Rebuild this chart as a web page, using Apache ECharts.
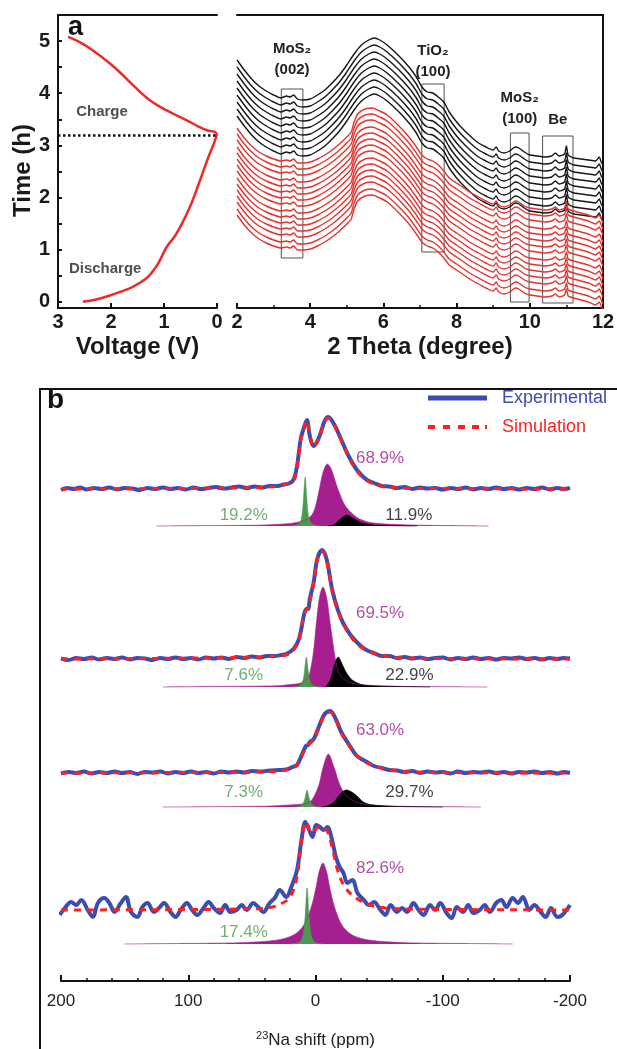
<!DOCTYPE html>
<html lang="en">
<head>
<meta charset="utf-8" />
<style>
    html, body { margin: 0; padding: 0; background: #fff; overflow: hidden; }
    .box { width: 617px; height: 1049px; }
</style>
</head>
<body>
<div class="box"></div>
<script src="https://cdn.jsdelivr.net/npm/echarts@6/dist/echarts.min.js"></script>
<script>
(function () {
var myChart = echarts.init(document.querySelector('.box'));
var FONT = '"Liberation Sans", Arial, Helvetica, sans-serif';

// ---------- panel a, left: voltage profile [V, h]
var dischargeCurve = [[2.53,0],[2.3,0.04],[2.08,0.1],[1.8,0.2],[1.58,0.29],[1.33,0.45],[1.2,0.6],[1.1,0.75],[0.95,1.05],[0.8,1.25],[0.69,1.44],[0.51,1.82],[0.32,2.33],[0.16,2.78],[0.06,3.03],[0.02,3.15],[0,3.22]];
var chargeCurve = [[0,3.22],[0.05,3.26],[0.19,3.29],[0.35,3.36],[0.57,3.48],[0.95,3.67],[1.26,3.86],[1.58,4.15],[1.77,4.34],[2.02,4.57],[2.34,4.82],[2.59,4.98],[2.81,5.08]];
var switchTime = 3.19;
var timeLabels = [0,1,2,3,4,5];
var timeTicks = [0,0.5,1,1.5,2,2.5,3,3.5,4,4.5,5];

// ---------- panel a, right: in-situ XRD [2theta, intensity a.u.]
var blackProfile = [[2.0,248],[2.2,238],[2.4,229],[2.6,222],[2.8,217],[3.0,213],[3.2,210],[3.35,212],[3.45,211],[3.55,213],[3.65,209],[3.8,208],[4.0,209],[4.2,213],[4.4,218],[4.6,225],[4.8,233],[5.0,243],[5.2,254],[5.4,263],[5.6,268],[5.75,270],[5.9,268],[6.1,263],[6.4,253],[6.7,241],[6.9,231],[7.05,221],[7.2,216],[7.35,215],[7.5,211],[7.65,206],[7.8,196],[8.0,186],[8.2,178],[8.4,171],[8.6,165],[8.8,161],[9.0,158],[9.08,161],[9.15,157],[9.3,155],[9.45,157],[9.6,161],[9.7,160],[9.85,156],[10.0,153],[10.2,152],[10.4,151],[10.6,152],[10.7,155],[10.8,152],[10.95,154],[11.0,162],[11.05,153],[11.2,150],[11.4,149],[11.6,148],[11.8,147],[11.9,151],[11.95,146],[12.0,143]];
var redProfile = [[2.0,180],[2.2,170],[2.4,162],[2.6,156],[2.8,152],[3.0,149],[3.2,147],[3.35,148],[3.45,147],[3.55,149],[3.65,145],[3.8,145],[4.0,146],[4.2,149],[4.4,153],[4.6,158],[4.8,164],[5.0,171],[5.12,176],[5.2,186],[5.3,194],[5.5,199],[5.7,200],[5.9,197],[6.1,193],[6.4,183],[6.7,171],[6.9,161],[7.05,153],[7.2,149],[7.35,147],[7.5,143],[7.65,137],[7.8,130],[8.0,125],[8.2,120],[8.4,115],[8.6,111],[8.8,107],[9.0,104],[9.08,107],[9.15,103],[9.3,101],[9.45,103],[9.6,107],[9.7,106],[9.85,102],[10.0,100],[10.2,99],[10.4,98],[10.6,99],[10.7,101],[10.8,98],[10.95,100],[11.0,106],[11.05,99],[11.2,97],[11.4,95],[11.6,93],[11.8,90],[11.9,93],[11.95,89],[12.0,85]];
var blackOffsets = [0,7,14,21,28,35,42,49,56];
var redOffsets = [0,6,12,19,25,31,37,43,50,56,62,68,74,81,87];
// peak windows: label, 2theta from/to, intensity from/to
var xrdPeaks = [
    ['MoS\u2082\n(002)', 3.21, 3.8, 50, 219],
    ['TiO\u2082\n(100)', 7.05, 7.66, 56, 224],
    ['MoS\u2082\n(100)', 9.47, 9.98, 6, 175],
    ['Be', 10.35, 11.18, 5, 172]
];

// ---------- panel b: 23Na NMR [ppm, intensity]
var sampleNames = ['MoS\u2082-TiO\u2082 charge 3V', 'MoS\u2082-TiO\u2082 discharge 0.01V', 'MoS\u2082-TiO\u2082 discharge 1V', 'MoS\u2082 discharge 0.01V'];
var expBase = [492, 322, 208, 71];
var compBase = [455, 294, 174, 37];

var exp1 = [[200,-1],[195,1],[190,0],[185,1.5],[180,-0.5],[174,1],[168,0],[162,1.5],[156,-0.5],[150,1],[144,0.5],[138,-1],[132,1],[126,0],[120,1.5],[114,0],[108,1],[102,-0.5],[96,1.5],[90,0],[84,1],[78,2],[72,0.5],[66,1.5],[60,2.5],[54,1],[48,2.5],[42,1.5],[36,3],[30,3],[25,4.5],[20,6],[17,10],[14.5,23],[11.6,50],[8.7,63],[6.8,69],[4.3,52],[1.5,43],[-2.9,52],[-7.2,68],[-10,72],[-14.5,65],[-20,50],[-26,33],[-32,20],[-37.6,12],[-42,8],[-46,6],[-52,3],[-58,2.5],[-64,1],[-70,2],[-76,0],[-82,1.5],[-88,0.5],[-94,1],[-100,-0.5],[-106,1],[-112,0],[-118,1.5],[-124,-0.5],[-130,1],[-136,0],[-142,1.5],[-148,0],[-154,1],[-160,-0.5],[-166,1],[-172,0],[-178,1.5],[-184,-0.5],[-190,1],[-195,0],[-200,1]];
var exp2 = [[200,0.5],[194,-1],[188,1],[182,0],[176,1.5],[170,-0.5],[164,1],[158,0],[152,1.5],[146,-0.5],[140,1],[134,0.5],[128,-1],[122,1],[116,0],[110,1.5],[104,0],[98,1],[92,-0.5],[86,1.5],[80,0.5],[74,1.5],[68,0],[62,2],[56,1],[50,2.5],[44,1.5],[38,3],[32,3],[27,4],[23,5],[17.3,10],[13,20],[8.7,46],[7,50],[5.8,50],[4.5,60],[1.4,77],[-1.4,100],[-5.2,109],[-8.7,100],[-13,70],[-17.3,50],[-21.7,36],[-27.5,24],[-34.7,14],[-40,9],[-46,6],[-52,3],[-58,3],[-64,1],[-70,2],[-76,0.5],[-82,1.5],[-88,0],[-94,1],[-100,1.5],[-106,-0.5],[-112,1],[-118,0],[-124,1.5],[-130,0],[-136,1],[-142,-0.5],[-148,1],[-154,0.5],[-160,1.5],[-166,0],[-172,1],[-178,-0.5],[-184,1],[-190,0],[-195,1],[-200,0.5]];
var exp3 = [[200,-0.5],[194,1],[188,0],[182,1.5],[176,-0.5],[170,1],[164,0],[158,1.5],[152,0],[146,1],[140,-1],[134,1],[128,0.5],[122,1.5],[116,-0.5],[110,1],[104,0],[98,1.5],[92,0],[86,1],[80,-0.5],[74,1.5],[68,0.5],[62,1.5],[56,0.5],[50,2],[43,1.5],[36,2.5],[29,3],[23,3.5],[18,6],[14.5,8],[10.1,20],[7.5,27],[5.8,28],[4.5,31],[1.4,34],[-2.9,47],[-7.2,59],[-11.6,62],[-15.9,54],[-20.2,41],[-26,29],[-31.8,18],[-36,14],[-40.5,11],[-46,7],[-52,5],[-58,3],[-64,2.5],[-70,1],[-76,2],[-82,0],[-88,1.5],[-94,0.5],[-100,1],[-106,-0.5],[-112,1.5],[-118,0],[-124,1],[-130,0.5],[-136,1.5],[-142,0],[-148,1],[-154,-0.5],[-160,1],[-166,0.5],[-172,1.5],[-178,0],[-184,1],[-190,-0.5],[-195,1],[-200,0]];
var exp4 = [[201,-5],[197,2],[192,8],[188,5],[184,10],[179,0],[175,-7],[171,7],[166,12],[162,7],[158,-2],[153,7],[149,13],[145,-2],[140,-7],[136,3],[132,7],[127,-2],[123,2],[119,7],[114,-2],[110,-7],[106,0],[101,7],[97,0],[93,-5],[88,2],[84,8],[80,2],[75,-3],[71,5],[67,-2],[62,0],[58,5],[54,0],[49,7],[45,3],[41,-2],[36,7],[32,12],[28,20],[23,13],[19,23],[14.5,40],[11,70],[8,88],[5,80],[2.3,73],[-0.6,85],[-3.5,83],[-6.4,80],[-9.3,83],[-13,70],[-16,53],[-19,43],[-22,37],[-25,27],[-29,30],[-33,17],[-38,10],[-42,5],[-46,8],[-51,0],[-55,-5],[-59,5],[-64,-2],[-68,2],[-72,-2],[-77,7],[-81,0],[-85,-5],[-90,5],[-94,0],[-98,7],[-103,-3],[-107,-8],[-111,3],[-116,-2],[-120,5],[-124,-3],[-129,0],[-133,5],[-137,-2],[-142,7],[-146,10],[-150,3],[-155,12],[-159,7],[-163,13],[-168,0],[-172,5],[-177,-2],[-181,-7],[-185,2],[-190,-7],[-194,-5],[-200,5]];

var sim1 = [[200,0],[120,0.5],[60,1],[43,1.5],[32,2.5],[23,5],[17,9],[14.5,22],[11.6,49],[8.7,62],[6.8,68],[4.3,52],[1.5,42],[-2.9,51],[-7.2,67],[-10,71],[-14.5,64],[-20,49],[-26,32],[-32,19],[-37.6,11],[-46,5],[-58,2],[-70,0.8],[-120,0.3],[-200,0]];
var sim2 = [[200,0],[100,0.8],[60,1.5],[43,2],[32,3],[23,4],[17.3,9],[13,19],[8.7,46],[5.8,51],[1.4,76],[-1.4,99],[-5.2,108],[-8.7,99],[-13,69],[-17.3,49],[-21.7,36],[-27.5,23],[-34.7,13],[-43,7],[-55,3],[-70,1],[-120,0.3],[-200,0]];
var sim3 = [[200,0],[100,0.5],[43,1],[23,3],[14.5,8],[10.1,19],[5.8,28],[1.4,33],[-2.9,46],[-7.2,58],[-11.6,61],[-15.9,53],[-20.2,40],[-26,28],[-31.8,18],[-40.5,10],[-52,5],[-69,1.5],[-120,0.3],[-200,0]];
var sim4 = [[200,0],[100,0.5],[50,1.2],[37.6,2],[29,5],[20,13],[14.5,33],[11,70],[7.2,88],[2.9,77],[-2.9,83],[-8.7,80],[-13,63],[-17.3,40],[-23.1,23],[-31.8,12],[-43,5],[-55,2],[-80,0.8],[-200,0]];

var green1 = [[20,0],[15,1],[12,4],[10.5,12],[9.3,30],[8.1,49],[7,30],[5.8,12],[4,4],[1,1],[-4,0]];
var green2 = [[18,0],[13,1],[10.5,4],[9,12],[8.1,22],[7.2,30],[6.3,22],[5.3,12],[3.8,4],[1,1],[-4,0]];
var green3 = [[16,0],[12,1],[9.5,4],[8,10],[6.6,17],[5.2,10],[3.7,4],[1,1],[-3,0]];
var green4 = [[20,0],[14,1],[11.6,3],[9.6,10],[8.1,28],[6.6,56],[5.1,28],[3.6,10],[1.6,3],[-1,1],[-6,0]];
var magenta1 = [[125,0],[100,0.3],[60,0.6],[40,1],[25,2],[15,3.5],[8,6],[4.3,9],[1.5,14],[-0.5,22],[-2.9,36],[-6,54],[-9.3,62],[-12,58],[-14.5,49],[-17,39],[-20,29],[-23,21],[-26,16],[-30,11],[-34.7,7],[-43,3.5],[-55,2],[-75,1],[-100,0.5],[-136,0]];
var magenta2 = [[120,0],[80,0.4],[50,0.8],[29,1.3],[20,2.5],[11.6,4],[5.8,10],[3.5,20],[1.4,37],[-1.4,73],[-3.5,92],[-5.8,100],[-8.7,90],[-11.6,63],[-14.5,37],[-16.5,22],[-18.8,13],[-22,8],[-26,5],[-32,3],[-45,1.5],[-70,0.6],[-100,0.3],[-135,0]];
var magenta3 = [[120,0],[80,0.3],[40,0.8],[20,2],[10,3],[5,4.5],[1.4,10],[-2.9,23],[-6,40],[-10.1,53],[-14.5,40],[-18.8,23],[-22,15],[-26,9],[-32,5],[-40,2.5],[-55,1.2],[-80,0.5],[-130,0]];
var magenta4 = [[150,0],[124,0.3],[94,0.6],[64,1.1],[44,2.2],[31,3.8],[24.2,5.6],[17.2,9],[12.2,14],[8.2,21],[5.2,30],[2.2,42],[-0.8,59],[-2.8,72],[-5.8,81],[-8.8,72],[-10.8,59],[-13.8,42],[-16.8,30],[-19.8,21],[-23.8,14],[-28.8,9],[-35.8,5.6],[-43,3.8],[-56,2.2],[-76,1.1],[-106,0.6],[-136,0.3],[-155,0]];
var black1 = [[-10,0],[-14,1],[-17,4],[-20,7.5],[-24.6,11],[-28,9],[-32,6],[-36,3.5],[-40.5,2],[-48,0.8],[-60,0.3],[-80,0]];
var black2 = [[-8,0],[-11.6,7],[-14.5,20],[-16.5,28],[-17.9,30],[-19.5,27],[-23.1,17],[-26,11],[-28.9,7],[-33,4],[-37.6,2],[-50,0.8],[-75,0.3],[-90,0]];
var black3 = [[-5,0],[-10,1.5],[-14.5,5],[-18.8,12],[-22,16],[-24.6,17],[-27,16],[-31.8,12],[-37.6,5],[-43,2.5],[-49,1.5],[-60,0.6],[-80,0.2],[-100,0]];

var expSpectra = [exp1, exp2, exp3, exp4];
var simSpectra = [sim1, sim2, sim3, sim4];
var greenComps = [green1, green2, green3, green4];
var magentaComps = [magenta1, magenta2, magenta3, magenta4];
var blackComps = [black1, black2, black3, null];
var magentaPct = ['68.9%', '69.5%', '63.0%', '82.6%'];
var greenPct = ['19.2%', '7.6%', '7.3%', '17.4%'];
var blackPct = ['11.9%', '22.9%', '29.7%', null];

var GREEN = '#4c9a4f', MAGENTA = '#a5208e', BLUE = '#3a4db3', RED = '#ff1f1f';

function shift(arr, off) {
    return arr.map(function (p) { return [p[0], p[1] + off]; });
}

var series = [];

// panel a left
series.push({ type: 'line', xAxisIndex: 0, yAxisIndex: 0, data: dischargeCurve, smooth: 0.4, symbol: 'none',
    lineStyle: { color: '#ee2a27', width: 2.5 } });
series.push({ type: 'line', xAxisIndex: 0, yAxisIndex: 0, data: chargeCurve, smooth: 0.4, symbol: 'none',
    lineStyle: { color: '#ee2a27', width: 2.5 } });
series.push({ type: 'line', xAxisIndex: 0, yAxisIndex: 0, data: [[3, switchTime], [0, switchTime]], symbol: 'none',
    lineStyle: { color: '#111', width: 2.5, type: [2.5, 2.5] } });
series.push({ type: 'scatter', xAxisIndex: 0, yAxisIndex: 0, symbolSize: 1, silent: true,
    itemStyle: { color: 'rgba(0,0,0,0)' },
    label: { show: true, position: 'inside', formatter: '{b}', fontSize: 15, fontWeight: 'bold', color: '#222', fontFamily: FONT },
    data: [{ name: 'Charge', value: [2.17, 3.64] }, { name: 'Discharge', value: [2.11, 0.63] }] });

// panel a right
blackOffsets.forEach(function (off) {
    series.push({ type: 'line', xAxisIndex: 2, yAxisIndex: 1, symbol: 'none', smooth: 0.2,
        data: shift(blackProfile, -off), lineStyle: { color: '#161616', width: 1.4 } });
});
redOffsets.forEach(function (off) {
    series.push({ type: 'line', xAxisIndex: 2, yAxisIndex: 1, symbol: 'none', smooth: 0.2,
        data: shift(redProfile, -off), lineStyle: { color: '#e23430', width: 1.4 } });
});
var labelGap = [8, 1, 3, 5];
series.push({ type: 'line', xAxisIndex: 2, yAxisIndex: 1, symbol: 'none', data: [], silent: true,
    markArea: {
        silent: true,
        itemStyle: { color: 'rgba(0,0,0,0)', borderColor: '#505050', borderWidth: 1 },
        label: { show: true, position: 'top', color: '#222', fontSize: 15, fontWeight: 'bold', lineHeight: 21, fontFamily: FONT },
        data: xrdPeaks.map(function (p, i) {
            return [{ name: p[0], xAxis: p[1], yAxis: p[3], label: { distance: labelGap[i] } }, { xAxis: p[2], yAxis: p[4] }];
        })
    } });

// panel b
for (var s = 0; s < 4; s++) {
    series.push({ type: 'line', name: 'magenta', xAxisIndex: 4, yAxisIndex: 2, symbol: 'none', smooth: 0.3,
        data: shift(magentaComps[s], compBase[s]), lineStyle: { width: 0.6, color: MAGENTA },
        areaStyle: { origin: compBase[s], color: MAGENTA, opacity: 1 } });
    if (blackComps[s]) {
        series.push({ type: 'line', name: 'black', xAxisIndex: 4, yAxisIndex: 2, symbol: 'none', smooth: 0.3,
            data: shift(blackComps[s], compBase[s]), lineStyle: { width: 0.6, color: '#000' },
            areaStyle: { origin: compBase[s], color: '#000', opacity: 1 } });
    }
    series.push({ type: 'line', name: 'green', xAxisIndex: 4, yAxisIndex: 2, symbol: 'none', smooth: 0.3,
        data: shift(greenComps[s], compBase[s]), lineStyle: { width: 0.6, color: GREEN },
        areaStyle: { origin: compBase[s], color: GREEN, opacity: 1 } });
    series.push({ type: 'line', name: 'Experimental', xAxisIndex: 4, yAxisIndex: 2, symbol: 'none', smooth: 0.35,
        data: shift(expSpectra[s], expBase[s]), lineStyle: { width: 4, color: BLUE }, itemStyle: { color: BLUE } });
    series.push({ type: 'line', name: 'Simulation', xAxisIndex: 4, yAxisIndex: 2, symbol: 'none', smooth: 0.35,
        data: shift(simSpectra[s], expBase[s]), lineStyle: { width: 3, color: RED, type: [7, 6] }, itemStyle: { color: RED } });
}

// text in panel b, anchored in ppm / intensity
var nameY = [556, 386, 247, 113], magY = [523, 368, 251, 113], compY = [466, 306, 189, 49];
var notes = [];
for (var k = 0; k < 4; k++) {
    notes.push({ name: sampleNames[k], value: [201, nameY[k]], label: { align: 'left', color: '#111', fontSize: 16 } });
    notes.push({ name: magentaPct[k], value: [-31.8, magY[k]], label: { align: 'left', color: MAGENTA } });
    notes.push({ name: greenPct[k], value: [56.4, compY[k]], label: { align: 'center', color: GREEN } });
    if (blackPct[k]) notes.push({ name: blackPct[k], value: [-54.9, compY[k]], label: { align: 'left', color: '#111' } });
}
series.push({ type: 'scatter', xAxisIndex: 4, yAxisIndex: 2, symbolSize: 1, silent: true,
    itemStyle: { color: 'rgba(0,0,0,0)' },
    label: { show: true, position: 'inside', formatter: '{b}', fontSize: 17, fontFamily: FONT },
    data: notes });

var axisLine = { onZero: false, lineStyle: { color: '#111', width: 2 } };
var boldLabel = { fontSize: 20, fontWeight: 'bold', color: '#1a1a1a', fontFamily: FONT };
var boldName = { fontSize: 24, fontWeight: 'bold', color: '#1a1a1a', fontFamily: FONT };

option = {
    animation: false,
    backgroundColor: '#fff',
    textStyle: { fontFamily: FONT },
    grid: [
        { left: 58, right: 400, top: 15, bottom: 741, outerBoundsMode: 'none' },
        { left: 237, right: 14, top: 15, bottom: 741, outerBoundsMode: 'none' },
        { left: 61, right: 47, top: 389, bottom: 68, outerBoundsMode: 'none' }
    ],
    legend: {
        left: 428, top: 389, orient: 'vertical', padding: 0, itemGap: 11,
        itemWidth: 59, itemHeight: 5, selectedMode: false,
        textStyle: { fontSize: 18, fontFamily: FONT, padding: [0, 0, 0, 10] },
        data: [
            { name: 'Experimental', icon: 'rect', textStyle: { color: BLUE } },
            { name: 'Simulation', icon: 'path://M0,0h7v4h-7zM15,0h7v4h-7zM30,0h7v4h-7zM44,0h7v4h-7zM57,0h2v4h-2z', textStyle: { color: RED } }
        ]
    },
    xAxis: [
        { gridIndex: 0, type: 'value', min: 0, max: 3, interval: 1, inverse: true, position: 'bottom',
          name: 'Voltage (V)', nameLocation: 'middle', nameGap: 27, nameTextStyle: boldName,
          axisLine: axisLine, axisTick: { inside: true, length: 5, lineStyle: { width: 2, color: '#111' } },
          axisLabel: Object.assign({ margin: 4 }, boldLabel), splitLine: { show: false } },
        { gridIndex: 0, type: 'value', min: 0, max: 3, inverse: true, position: 'top',
          axisLine: axisLine, axisTick: { show: false }, axisLabel: { show: false }, splitLine: { show: false } },
        { gridIndex: 1, type: 'value', min: 2, max: 12, interval: 2, position: 'bottom',
          name: '2 Theta (degree)', nameLocation: 'middle', nameGap: 27, nameTextStyle: boldName,
          axisLine: axisLine, axisTick: { inside: true, length: 5, lineStyle: { width: 2, color: '#111' } },
          minorTick: { show: true, splitNumber: 2, length: 3, lineStyle: { width: 1.5, color: '#111' } },
          axisLabel: Object.assign({ margin: 4 }, boldLabel), splitLine: { show: false } },
        { gridIndex: 1, type: 'value', min: 2, max: 12, position: 'top',
          axisLine: axisLine, axisTick: { show: false }, axisLabel: { show: false }, splitLine: { show: false } },
        { gridIndex: 2, type: 'value', min: -200, max: 200, interval: 100, inverse: true, position: 'bottom',
          name: '{sup|23}Na shift (ppm)', nameLocation: 'middle', nameGap: 49,
          nameTextStyle: { fontSize: 17, color: '#222', fontFamily: FONT,
              rich: { sup: { fontSize: 11, padding: [0, 0, 9, 0], color: '#222' } } },
          axisLine: axisLine, axisTick: { inside: true, length: 6, lineStyle: { width: 2, color: '#111' } },
          minorTick: { show: true, splitNumber: 5, length: 3, lineStyle: { width: 1.5, color: '#111' } },
          axisLabel: { fontSize: 17, color: '#222', margin: 12 }, splitLine: { show: false } }
    ],
    yAxis: [
        { gridIndex: 0, type: 'value', min: -0.12, max: 5.5, position: 'left',
          name: 'Time (h)', nameLocation: 'middle', nameGap: 23, nameTextStyle: Object.assign({ padding: [0, 0, 0, -18] }, boldName),
          axisLine: axisLine,
          axisTick: { inside: true, length: 4, customValues: timeTicks, lineStyle: { width: 2, color: '#111' } },
          axisLabel: Object.assign({ margin: 8, customValues: timeLabels }, boldLabel), splitLine: { show: false } },
        { gridIndex: 1, type: 'value', min: 0, max: 293, position: 'right',
          axisLine: axisLine, axisTick: { show: false }, axisLabel: { show: false }, splitLine: { show: false } },
        { gridIndex: 2, type: 'value', min: 0, max: 592, show: false }
    ],
    graphic: [
        { type: 'text', left: 68, top: 14, style: { text: 'a', fill: '#111', font: 'bold 27px ' + FONT } },
        { type: 'text', left: 47, top: 386, style: { text: 'b', fill: '#111', font: 'bold 28px ' + FONT } },
        { type: 'rect', shape: { x: 40, y: 389, width: 640, height: 720 }, style: { fill: 'none', stroke: '#111', lineWidth: 2 }, silent: true }
    ],
    series: series
};

myChart.setOption(option);
})();
</script>
</body>
</html>
